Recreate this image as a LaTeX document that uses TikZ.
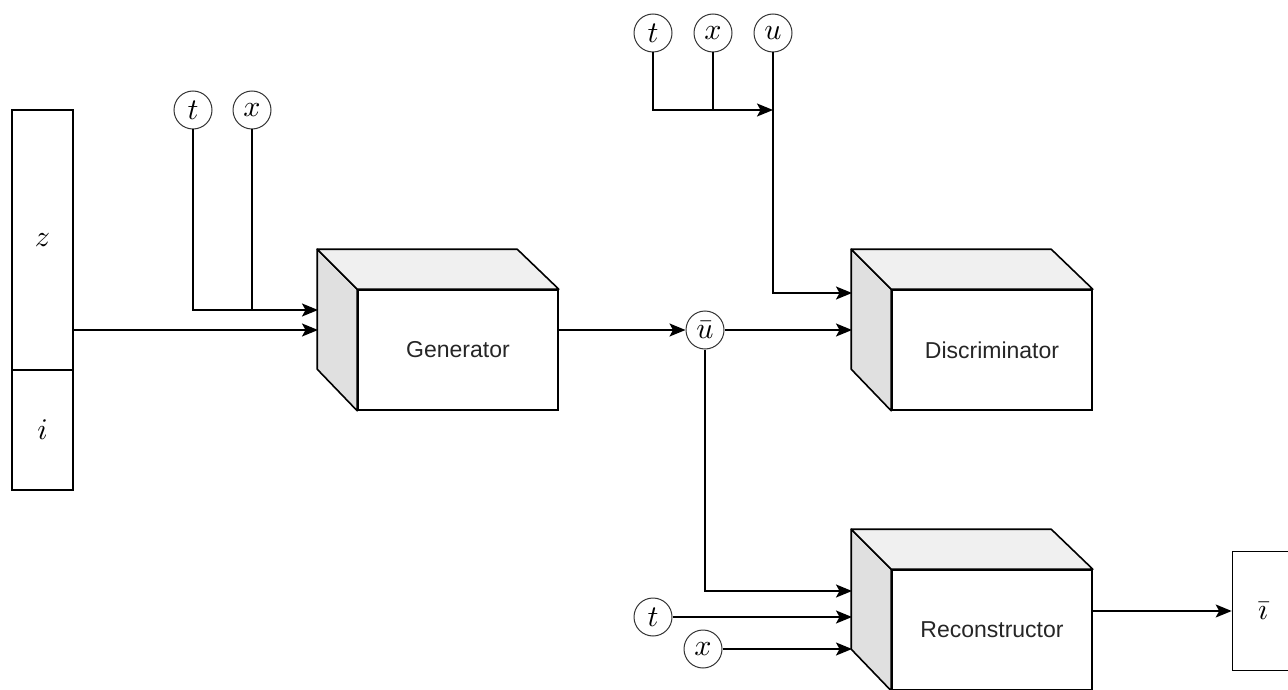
\documentclass[tikz,border=0pt]{standalone}
\usepackage{fontspec}
\usepackage{graphicx}
\newfontfamily\labelfont{Liberation Sans}
\newcommand{\mvar}[1]{\scalebox{3.0}{$#1$}}
\usetikzlibrary{arrows.meta,calc}
\begin{document}
\begin{tikzpicture}[x=1pt,y=-1pt,
  conn/.style={line width=1.6pt,draw=black},
  arr/.style={conn,-{Stealth[length=16pt,width=13pt,inset=3.5pt]}},
  varc/.style={circle,draw=black!80,line width=1pt,minimum size=38pt,inner sep=0pt},
  barbox/.style={draw,line width=1.6pt,minimum width=61pt,inner sep=0pt},
  front/.style={draw,line width=1.6pt,fill=white,minimum width=200pt,minimum height=120pt,inner sep=0pt,
    font=\labelfont\fontsize{23}{26}\selectfont,text=black!85},
  sideface/.style={draw,line width=1.6pt,fill=black!12,line join=round},
  topface/.style={draw,line width=1.6pt,fill=black!6,line join=round}]
\useasboundingbox (0,0) rectangle (1288,690);

% input bar
\node[barbox,minimum height=260pt] (zbox) at (42.5,240) {\mvar{z}};
\node[barbox,minimum height=120pt] (ibox) at (42.5,430) {\mvar{i}};

% cubes
\node[front] (gen) at (458,350) {Generator};
\node[front] (disc) at (992,350) {Discriminator};
\node[front] (rec) at (992,630) {Reconstructor};
\foreach \c in {gen,disc,rec}{
  \draw[sideface] (\c.north west) -- ++(-40,-40) -- ++(0,120) -- (\c.south west) -- cycle;
  \draw[topface] (\c.north west) -- ++(-40,-40) -- ++(200,0) -- (\c.north east) -- cycle;
}

% variable circles
\node[varc] (t1) at (193,110) {\mvar{t}};
\node[varc] (x1) at (252,110) {\mvar{x}};
\node[varc] (t2) at (653,33) {\mvar{t}};
\node[varc] (x2) at (713,33) {\mvar{x}};
\node[varc] (u2) at (773,33) {\mvar{u}};
\node[varc] (ub) at (705,330) {\mvar{\bar{u}}};
\node[varc] (t3) at (653,617) {\mvar{t}};
\node[varc] (x3) at (703,649) {\mvar{x}};

% output box
\node[barbox,minimum height=119pt] (ib) at (1263,611) {\mvar{\bar{\imath}}};

% inlet coordinates on back edges
\coordinate (g1) at (318,310);
\coordinate (g2) at (318,330);
\coordinate (d1) at (852,293);
\coordinate (d2) at (852,330);
\coordinate (r1) at (852,591);
\coordinate (r2) at (852,617);
\coordinate (r3) at (852,649);
\coordinate (uj) at (773,110);

% generator inputs
\draw[arr] (t1.south) |- (g1);
\draw[conn] (x1.south) -- (x1.south |- g1);
\draw[arr] (zbox.east |- g2) -- (g2);

% generator output
\draw[arr] (gen.east |- ub) -- (ub.west);

% discriminator inputs
\draw[arr] (t2.south) |- (uj);
\draw[conn] (x2.south) -- (x2.south |- uj);
\draw[arr] (u2.south) |- (d1);
\draw[arr] (ub.east) -- (d2);

% reconstructor inputs
\draw[arr] (ub.south) |- (r1);
\draw[arr] (t3.east) -- (r2);
\draw[arr] (x3.east) -- (r3);

% reconstructor output
\draw[arr] (rec.east |- ib) -- (ib.west);
\end{tikzpicture}
\end{document}
